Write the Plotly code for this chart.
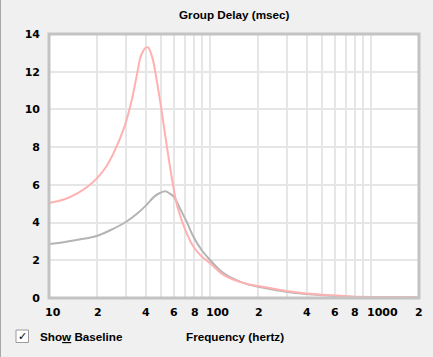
import math
import plotly.graph_objects as go

# ---------------- data ----------------
freq_pink = [10, 12.5, 15, 17.5, 20, 22.5, 25.6, 29.5, 32.5, 35.7, 37, 38.5, 40, 41.5, 43, 44.5,
             47.5, 50, 53.5, 56, 58.5, 62, 66.7, 71.7, 78.8, 88.7, 100, 121, 161, 204, 314, 441,
             561, 747, 1200, 2000]
delay_pink = [5.04, 5.24, 5.55, 5.93, 6.37, 6.92, 7.8, 9.1, 10.4, 12.1, 12.75, 13.1, 13.28, 13.28, 13.0, 12.55,
              11.2, 10.0, 8.3, 7.2, 6.2, 5.05, 4.15, 3.45, 2.74, 2.21, 1.86, 1.24, 0.8, 0.62, 0.35, 0.21,
              0.14, 0.085, 0.05, 0.04]

freq_gray = [10, 12.5, 15, 17.5, 20, 24.4, 30, 35.7, 40, 45.3, 49, 52.8, 56, 60, 65, 71.7,
             78.8, 88.7, 100, 121, 161, 204, 314, 441, 561, 747, 1200, 2000]
delay_gray = [2.86, 2.97, 3.09, 3.18, 3.3, 3.62, 4.03, 4.51, 4.9, 5.39, 5.57, 5.66, 5.55, 5.35,
              4.77, 4.06, 3.27, 2.56, 2.03, 1.33, 0.8, 0.58, 0.30, 0.18, 0.12, 0.07, 0.035, 0.02]

x_grid_vals = [20, 30, 40, 50, 60, 70, 80, 90, 100, 200, 300, 400, 500, 600, 700, 800, 900, 1000]
x_label_vals = [10, 20, 40, 60, 80, 100, 200, 400, 600, 800, 1000, 2000]
x_label_text = ["10", "2", "4", "6", "8", "100", "2", "4", "6", "8", "1000", "2"]
y_tick_vals = [0, 2, 4, 6, 8, 10, 12, 14]
y_tick_text = ["0", "2", "4", "6", "8", "10", "12", "14"]

title_text = "Group Delay (msec)"
x_title_text = "Frequency (hertz)"
checkbox_text = "Sho<u>w</u> Baseline"

X_MIN, X_MAX = 10, 2000

# ---------------- layout geometry (pixels) ----------------
W, H = 433, 357
L, R, T, B = 49, 14, 34, 59
PW, PH = W - L - R, H - T - B
DIGIT_W = 7.6


def px_x(p):
    return (p - L) / PW


def px_y(p):
    return (H - B - p) / PH


def log_paper(v):
    return (math.log10(v) - math.log10(X_MIN)) / (math.log10(X_MAX) - math.log10(X_MIN))


TXT = dict(family="Liberation Sans", size=11.7, color="#000000", weight="bold")
NUM = dict(family="DejaVu Sans", size=11, color="#000000", weight="bold")

fig = go.Figure()
fig.add_trace(go.Scatter(x=freq_gray, y=delay_gray, mode="lines",
                         line=dict(color="#b4b4b4", width=2, shape="spline", smoothing=1.0),
                         hoverinfo="skip", showlegend=False))
fig.add_trace(go.Scatter(x=freq_pink, y=delay_pink, mode="lines",
                         line=dict(color="#ffb0b0", width=2, shape="spline", smoothing=1.0),
                         hoverinfo="skip", showlegend=False))

annotations = []
for v, t in zip(x_label_vals, x_label_text):
    annotations.append(dict(x=log_paper(v), y=px_y(312), xref="paper", yref="paper", text=t, showarrow=False,
                            xanchor="center", yanchor="middle", xshift=len(t) * DIGIT_W / 2 - 3.5,
                            font=NUM, borderpad=0))
annotations.append(dict(x=0.5, y=px_y(14), xref="paper", yref="paper", text=title_text, showarrow=False,
                        xanchor="center", yanchor="middle", font=TXT))
annotations.append(dict(x=px_x(235), y=px_y(336), xref="paper", yref="paper", text=x_title_text, showarrow=False,
                        xanchor="center", yanchor="middle", font=TXT))
annotations.append(dict(x=px_x(38), y=px_y(336), xref="paper", yref="paper", text=checkbox_text, showarrow=False,
                        xanchor="left", yanchor="middle", font=TXT))
annotations.append(dict(x=px_x(22.5), y=px_y(336), xref="paper", yref="paper", text="✓", showarrow=False,
                        xanchor="center", yanchor="middle",
                        font=dict(family="DejaVu Sans", size=11, color="#000", weight="bold")))

shapes = [
    dict(type="rect", xref="paper", yref="paper", x0=0, x1=1, y0=0, y1=1,
         line=dict(color="#c3c3c3", width=3), layer="above"),
    dict(type="rect", xref="paper", yref="paper", x0=px_x(16), x1=px_x(28.5), y0=px_y(330), y1=px_y(342.5),
         fillcolor="#ffffff", line=dict(color="#9a9a9a", width=1), layer="below"),
    dict(type="line", xref="paper", yref="paper", x0=px_x(0.5), x1=px_x(0.5), y0=px_y(0), y1=px_y(357),
         line=dict(color="#a8a8a8", width=1)),
]

fig.update_layout(
    width=W, height=H,
    margin=dict(l=L, r=R, t=T, b=B, pad=0),
    paper_bgcolor="#f0f0f0", plot_bgcolor="#ffffff",
    showlegend=False,
    annotations=annotations, shapes=shapes,
    xaxis=dict(type="log", range=[math.log10(X_MIN), math.log10(X_MAX)], tickvals=x_grid_vals, showticklabels=False,
               showgrid=True, gridcolor="#e6e6e6", gridwidth=2, zeroline=False, showline=False, ticks="",
               fixedrange=True),
    yaxis=dict(range=[0, 14], tickvals=y_tick_vals, ticktext=y_tick_text, showgrid=True, gridcolor="#e6e6e6",
               gridwidth=2, zeroline=False, showline=False, ticks="", tickfont=NUM, ticklabelstandoff=8,
               fixedrange=True),
)

fig.write_html("out.html", config={"displayModeBar": False},
               post_script="document.body.style.margin='0';document.body.style.background='#f0f0f0';")
